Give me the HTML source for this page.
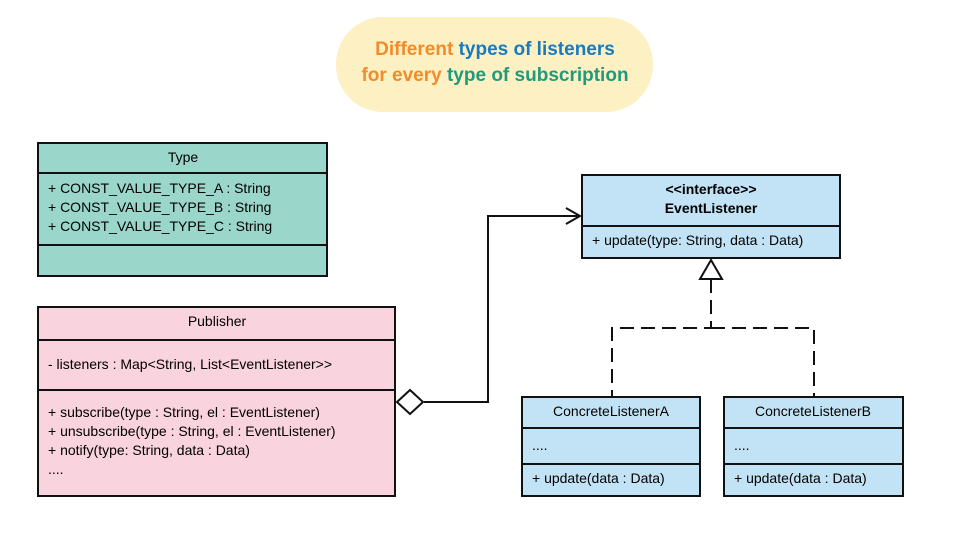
<!DOCTYPE html>
<html><head><meta charset="utf-8"><style>
body{margin:0;width:956px;height:536px;background:#fff;font-family:"Liberation Sans",sans-serif;}
</style></head><body>
<svg width="956" height="536" xmlns="http://www.w3.org/2000/svg" font-family="Liberation Sans, sans-serif" font-size="14" fill="#000">
<rect x="336" y="17" width="317" height="95" rx="47" fill="#fdf0c3"/>
<text x="495" y="55" text-anchor="middle" font-weight="bold" font-size="19"><tspan fill="#f08c2a">Different </tspan><tspan fill="#1a7ac0">types of listeners</tspan></text>
<text x="495" y="81" text-anchor="middle" font-weight="bold" font-size="19"><tspan fill="#f08c2a">for every </tspan><tspan fill="#1f9a7d">type of subscription</tspan></text>

<g stroke="#111" stroke-width="2">
<rect x="38" y="143" width="289" height="133" fill="#9bd6ca"/>
<line x1="38" y1="173" x2="327" y2="173"/>
<line x1="38" y1="245" x2="327" y2="245"/>
<rect x="38" y="307" width="357" height="189" fill="#f9d3de"/>
<line x1="38" y1="340" x2="395" y2="340"/>
<line x1="38" y1="390" x2="395" y2="390"/>
<rect x="582" y="175" width="258" height="83" fill="#c2e3f5"/>
<line x1="582" y1="226" x2="840" y2="226"/>
<rect x="522" y="397" width="178" height="99" fill="#c2e3f5"/>
<line x1="522" y1="428" x2="700" y2="428"/>
<line x1="522" y1="464" x2="700" y2="464"/>
<rect x="724" y="397" width="179" height="99" fill="#c2e3f5"/>
<line x1="724" y1="428" x2="903" y2="428"/>
<line x1="724" y1="464" x2="903" y2="464"/>
<polyline points="424,402 488,402 488,216 580,216" fill="none"/>
<polyline points="566,208 580,216 566,224" fill="none"/>
<polygon points="397,402 410,390 423,402 410,414" fill="#fff"/>
<polygon points="711,260 722,279 700,279" fill="#fff"/>
<polyline points="711,279 711,328 612,328 612,397" fill="none" stroke-dasharray="14,7"/>
<polyline points="711,328 814,328 814,397" fill="none" stroke-dasharray="14,7"/>
</g>

<text x="183" y="162" text-anchor="middle">Type</text>
<text x="48" y="193">+ CONST_VALUE_TYPE_A : String</text>
<text x="48" y="212">+ CONST_VALUE_TYPE_B : String</text>
<text x="48" y="231">+ CONST_VALUE_TYPE_C : String</text>
<text x="217" y="326" text-anchor="middle">Publisher</text>
<text x="48" y="369">- listeners : Map&lt;String, List&lt;EventListener&gt;&gt;</text>
<text x="48" y="417">+ subscribe(type : String, el : EventListener)</text>
<text x="48" y="436">+ unsubscribe(type : String, el : EventListener)</text>
<text x="48" y="455">+ notify(type: String, data : Data)</text>
<text x="48" y="474">....</text>
<text x="711" y="194" text-anchor="middle" font-weight="bold">&lt;&lt;interface&gt;&gt;</text>
<text x="711" y="213" text-anchor="middle" font-weight="bold">EventListener</text>
<text x="592" y="245">+ update(type: String, data : Data)</text>
<text x="611" y="416" text-anchor="middle">ConcreteListenerA</text>
<text x="532" y="450">....</text>
<text x="532" y="483">+ update(data : Data)</text>
<text x="813" y="416" text-anchor="middle">ConcreteListenerB</text>
<text x="734" y="450">....</text>
<text x="734" y="483">+ update(data : Data)</text>
</svg>
</body></html>
